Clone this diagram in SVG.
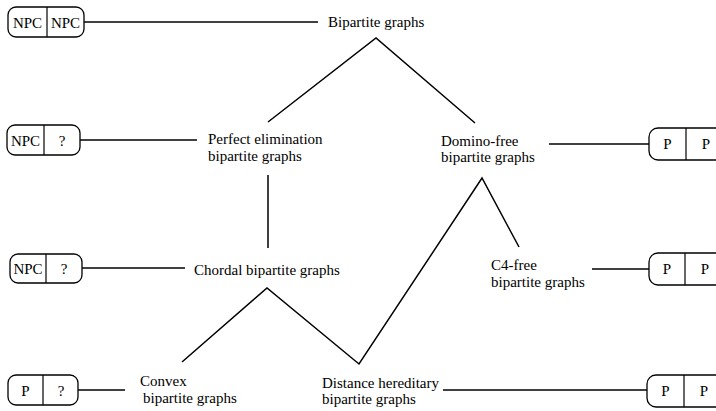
<svg xmlns="http://www.w3.org/2000/svg" width="716" height="411" viewBox="0 0 716 411">
<style>
.bx{fill:#fff;stroke:#000;stroke-width:1.3}
.dv{stroke:#000;stroke-width:1.2}
.ln{stroke:#000;stroke-width:1.5;fill:none}
.t{font-family:"Liberation Serif","Times New Roman",serif;font-size:15px;fill:#000}
.b{font-family:"Liberation Serif","Times New Roman",serif;font-size:15px;fill:#000;text-anchor:middle}
</style>
<rect width="716" height="411" fill="#fff"/>
<g id="connectors">
<line class="ln" x1="84" y1="22" x2="318" y2="22"/>
<polyline class="ln" points="268,122 376,38 475,123"/>
<line class="ln" x1="80" y1="140" x2="197" y2="140"/>
<line class="ln" x1="549" y1="144" x2="649" y2="144"/>
<line class="ln" x1="268" y1="175" x2="268" y2="248"/>
<line class="ln" x1="82" y1="268" x2="185" y2="268"/>
<polyline class="ln" points="182,362 267,288 359,364 482,178 519,247"/>
<line class="ln" x1="592" y1="269" x2="649" y2="269"/>
<line class="ln" x1="78" y1="390" x2="125" y2="390"/>
<line class="ln" x1="443" y1="390" x2="647" y2="390"/>
</g>
<g id="box-bipartite">
<rect class="bx" x="8" y="7" width="76" height="30" rx="8"/>
<line class="dv" x1="47" y1="7" x2="47" y2="37"/>
<text class="b" x="27.5" y="27.5">NPC</text>
<text class="b" x="65.5" y="27.5">NPC</text>
</g>
<g id="bipartite"><text class="t" x="328" y="27">Bipartite graphs</text></g>
<g id="box-peb">
<rect class="bx" x="7" y="125" width="73" height="30" rx="8"/>
<line class="dv" x1="44" y1="125" x2="44" y2="155"/>
<text class="b" x="25.5" y="145.5">NPC</text>
<text class="b" x="62" y="145.5">?</text>
</g>
<g id="peb"><text class="t" x="208" y="144">Perfect elimination</text><text class="t" x="208" y="161">bipartite graphs</text></g>
<g id="domino"><text class="t" x="441" y="146">Domino-free</text><text class="t" x="441" y="162">bipartite graphs</text></g>
<g id="box-domino">
<rect class="bx" x="649" y="128" width="90" height="32" rx="9"/>
<line class="dv" x1="686" y1="128" x2="686" y2="160"/>
<text class="b" x="667.5" y="149">P</text>
<text class="b" x="706" y="149">P</text>
</g>
<g id="box-chordal">
<rect class="bx" x="10" y="254" width="72" height="29" rx="8"/>
<line class="dv" x1="46" y1="254" x2="46" y2="283"/>
<text class="b" x="28" y="274">NPC</text>
<text class="b" x="64" y="274">?</text>
</g>
<g id="chordal"><text class="t" x="194" y="275">Chordal bipartite graphs</text></g>
<g id="c4free"><text class="t" x="491" y="270">C4-free</text><text class="t" x="491" y="287">bipartite graphs</text></g>
<g id="box-c4free">
<rect class="bx" x="649" y="253" width="90" height="32" rx="9"/>
<line class="dv" x1="685" y1="253" x2="685" y2="285"/>
<text class="b" x="667" y="274">P</text>
<text class="b" x="705" y="274">P</text>
</g>
<g id="box-convex">
<rect class="bx" x="8" y="375" width="70" height="30" rx="8"/>
<line class="dv" x1="43" y1="375" x2="43" y2="405"/>
<text class="b" x="25.5" y="395.5">P</text>
<text class="b" x="61" y="395.5">?</text>
</g>
<g id="convex"><text class="t" x="140" y="386">Convex</text><text class="t" x="143" y="403">bipartite graphs</text></g>
<g id="distance"><text class="t" x="322" y="388">Distance hereditary</text><text class="t" x="322" y="404">bipartite graphs</text></g>
<g id="box-distance">
<rect class="bx" x="647" y="375" width="90" height="32" rx="9"/>
<line class="dv" x1="684" y1="375" x2="684" y2="407"/>
<text class="b" x="665.5" y="396">P</text>
<text class="b" x="704" y="396">P</text>
</g>
</svg>
